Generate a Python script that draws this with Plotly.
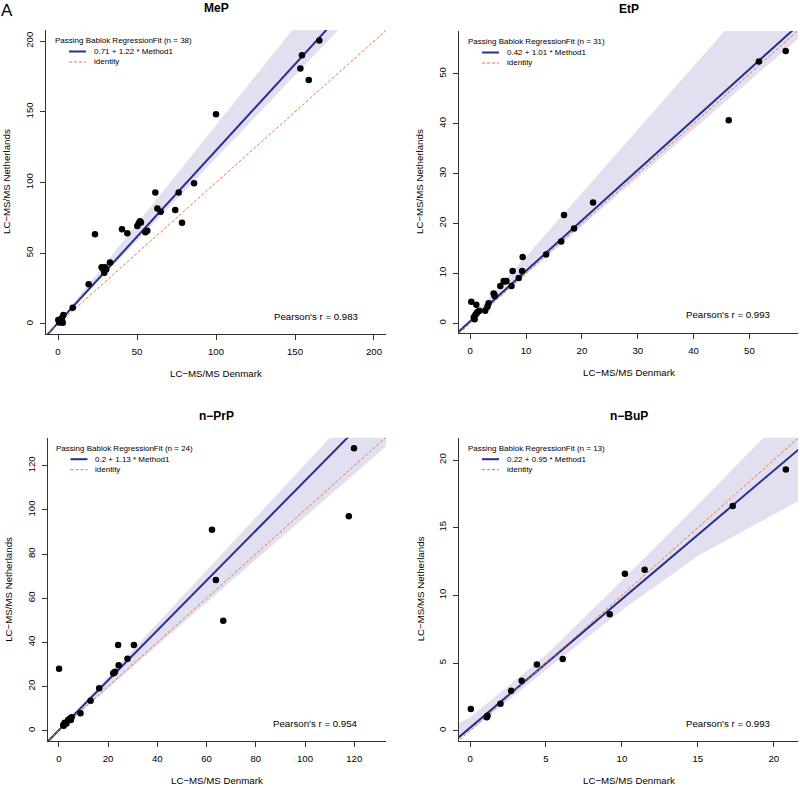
import plotly.graph_objects as go

W, H = 800, 788

# ---------------- data ----------------
titles = ["MeP", "EtP", "n\u2212PrP", "n\u2212BuP"]
n_obs = [38, 31, 24, 13]
intercepts = [0.71, 0.42, 0.2, 0.22]
slopes = [1.22, 1.01, 1.13, 0.95]
pearson = ["0.983", "0.993", "0.954", "0.993"]

mep_x = [165.4, 154.4, 153.4, 158.7, 100.0, 86.1, 61.6, 76.4, 62.9, 65.0,
         74.2, 78.5, 40.5, 43.9, 23.4, 50.2, 51.1, 51.9, 55.3, 56.5,
         32.9, 27.6, 28.7, 29.7, 29.3, 19.4, 9.3, 3.4, 2.3, 1.3,
         3.0, 0.2, 28.2, 30.5, 52.5, 1.8, 2.5, 0.8]
mep_y = [200.4, 190.0, 180.6, 172.6, 148.3, 99.5, 92.9, 92.9, 81.6, 79.4,
         80.6, 71.6, 67.0, 64.1, 63.4, 69.3, 71.2, 72.6, 64.9, 66.0,
         43.4, 40.1, 38.7, 40.1, 36.3, 28.1, 11.5, 6.4, 4.0, 1.6,
         0.9, 2.8, 39.5, 38.5, 71.8, 2.0, 3.2, 1.0]

etp_x = [56.5, 51.7, 46.3, 22.0, 16.8, 18.6, 16.3, 13.6, 9.4, 9.3,
         7.6, 8.7, 7.4, 6.0, 6.5, 5.4, 4.2, 4.4, 3.3, 3.1,
         2.7, 1.6, 1.2, 0.95, 1.1, 0.2, 0.65, 0.8, 6.2, 4.3, 1.4]
etp_y = [54.6, 52.5, 40.7, 24.2, 21.7, 19.0, 16.4, 13.8, 13.3, 10.5,
         10.5, 9.1, 7.5, 8.5, 8.5, 7.5, 6.0, 5.5, 4.0, 3.3,
         2.5, 2.5, 2.1, 1.7, 3.7, 4.3, 1.2, 0.8, 8.4, 5.8, 2.3]

prp_x = [119.9, 117.8, 62.2, 63.8, 66.8, 24.1, 30.5, 0.1, 24.3, 27.9,
         22.1, 22.8, 16.4, 12.9, 8.8, 4.9, 5.2, 3.8, 2.4, 1.8,
         3.1, 4.5, 2.0, 22.5]
prp_y = [127.9, 97.1, 91.0, 68.3, 49.8, 38.8, 38.8, 28.1, 29.7, 32.6,
         26.0, 26.7, 19.2, 13.6, 7.9, 4.8, 6.1, 4.8, 3.6, 2.6,
         3.3, 5.5, 2.2, 26.3]

bup_x = [20.8, 17.3, 11.5, 10.2, 9.2, 6.1, 4.4, 3.4, 2.7, 2.0, 1.15, 0.05, 1.1]
bup_y = [19.3, 16.6, 11.9, 11.6, 8.6, 5.3, 4.9, 3.7, 2.95, 2.0, 1.1, 1.6, 1.0]

# confidence band of the regression
mep_ci_x = [-8, 0, 210]
mep_ci_hi = [-9.5, 1.0, 294.0]
mep_ci_lo = [-10.5, 0.3, 246.0]

etp_ci_x = [-2.5, 0, 10, 60]
etp_ci_hi = [-1.9, 0.9, 13.4, 77.0]
etp_ci_lo = [-2.3, 0.1, 9.8, 58.3]

prp_ci_x = [-5, 0, 135]
prp_ci_hi = [-4.9, 0.6, 162.6]
prp_ci_lo = [-5.9, -0.2, 130.8]

bup_ci_x = [-0.75, 0, 5, 10, 15, 20, 22]
bup_ci_hi = [0.55, 1.0, 5.6, 11.1, 16.7, 22.4, 24.7]
bup_ci_lo = [-0.6, -0.05, 4.5, 8.9, 12.9, 16.0, 17.2]

x_ranges = [[-7.6, 207.6], [-2.0, 58.7], [-4.6, 132.9], [-0.73, 21.6]]
y_ranges = [[-7.1, 207.9], [-1.94, 58.6], [-4.66, 132.7], [-0.76, 21.65]]
tick_vals = [[0, 50, 100, 150, 200], [0, 10, 20, 30, 40, 50],
             [0, 20, 40, 60, 80, 100, 120], [0, 5, 10, 15, 20]]

xs = [mep_x, etp_x, prp_x, bup_x]
ys = [mep_y, etp_y, prp_y, bup_y]
cis = [(mep_ci_x, mep_ci_lo, mep_ci_hi), (etp_ci_x, etp_ci_lo, etp_ci_hi),
       (prp_ci_x, prp_ci_lo, prp_ci_hi), (bup_ci_x, bup_ci_lo, bup_ci_hi)]

# ---------------- layout geometry (pixels) ----------------
boxes = [(46, 386, 30, 334), (459, 798, 31, 333),
         (47.5, 386, 437.7, 741), (459, 798, 437.7, 741)]

FONT = "Liberation Sans, Arial, Helvetica, sans-serif"
LINE_COL = "#28308C"
ID_COL = "#E8763A"
BAND_COL = "rgba(226,223,241,1)"


def xp(px):
    return px / W


def yp(py):
    return 1 - py / H


fig = go.Figure()
layout = dict(width=W, height=H, margin=dict(l=0, r=0, t=0, b=0),
              plot_bgcolor="white", paper_bgcolor="white",
              showlegend=False, font=dict(family=FONT, color="black"))
annotations = []
shapes = []

for i in range(4):
    k = "" if i == 0 else str(i + 1)
    xa, ya = "x" + k, "y" + k
    x0, x1, y0, y1 = boxes[i]
    xr, yr = x_ranges[i], y_ranges[i]
    a, b = intercepts[i], slopes[i]
    cx, clo, chi = cis[i]

    fig.add_trace(go.Scatter(x=cx, y=clo, mode="lines", line=dict(width=0, color=BAND_COL),
                             xaxis=xa, yaxis=ya, hoverinfo="skip"))
    fig.add_trace(go.Scatter(x=cx, y=chi, mode="lines", line=dict(width=0, color=BAND_COL),
                             fill="tonexty", fillcolor=BAND_COL,
                             xaxis=xa, yaxis=ya, hoverinfo="skip"))
    lx = [xr[0] - 10, xr[1] + 10]
    fig.add_trace(go.Scatter(x=lx, y=[a + b * v for v in lx], mode="lines",
                             line=dict(color=LINE_COL, width=2), xaxis=xa, yaxis=ya))
    fig.add_trace(go.Scatter(x=lx, y=lx, mode="lines",
                             line=dict(color=ID_COL, width=1, dash="3px,2px"),
                             xaxis=xa, yaxis=ya))
    fig.add_trace(go.Scatter(x=xs[i], y=ys[i], mode="markers",
                             marker=dict(color="black", size=6.5, line=dict(width=0)),
                             xaxis=xa, yaxis=ya))

    axcommon = dict(showgrid=False, zeroline=False, showline=True, linecolor="#333333",
                    linewidth=1, ticks="outside", ticklen=5, tickwidth=1,
                    tickcolor="#333333", tickfont=dict(size=9.6, family=FONT, color="black"),
                    tickmode="array", tickvals=tick_vals[i], mirror=False)
    layout["xaxis" + k] = dict(axcommon, domain=[xp(x0), xp(x1)], range=xr,
                               anchor=ya, ticklabelstandoff=3)
    layout["yaxis" + k] = dict(axcommon, domain=[yp(y1), yp(y0)], range=yr,
                               anchor=xa, tickangle=-90, ticklabelstandoff=3)

    cxm = (x0 + x1) / 2
    cym = (y0 + y1) / 2
    # panel title
    annotations.append(dict(text="<b>%s</b>" % titles[i], x=xp(cxm), y=yp(y0 - 22),
                            xref="paper", yref="paper", showarrow=False,
                            font=dict(size=12, family=FONT), xanchor="center", yanchor="middle"))
    # axis titles
    annotations.append(dict(text="LC\u2212MS/MS Denmark", x=xp(cxm), y=yp(y1 + 39),
                            xref="paper", yref="paper", showarrow=False,
                            font=dict(size=9.7, family=FONT), xanchor="center", yanchor="middle"))
    annotations.append(dict(text="LC\u2212MS/MS Netherlands", x=xp(x0 - 39), y=yp(cym),
                            xref="paper", yref="paper", showarrow=False, textangle=-90,
                            font=dict(size=9.7, family=FONT), xanchor="center", yanchor="middle"))
    # pearson
    annotations.append(dict(text="Pearson's r = %s" % pearson[i], x=xp(x1 - 26), y=yp(y1 - 18),
                            xref="paper", yref="paper", showarrow=False,
                            font=dict(size=9.7, family=FONT), xanchor="right", yanchor="middle"))
    # legend
    annotations.append(dict(text="Passing Bablok RegressionFit (n = %d)" % n_obs[i],
                            x=xp(x0 + 6.5), y=yp(y0 + 10.5), xref="paper", yref="paper",
                            showarrow=False, font=dict(size=8, family=FONT),
                            xanchor="left", yanchor="middle"))
    annotations.append(dict(text="%s + %s * Method1" % (a, b),
                            x=xp(x0 + 45.5), y=yp(y0 + 21.5), xref="paper", yref="paper",
                            showarrow=False, font=dict(size=8, family=FONT),
                            xanchor="left", yanchor="middle"))
    annotations.append(dict(text="identity",
                            x=xp(x0 + 45.5), y=yp(y0 + 32), xref="paper", yref="paper",
                            showarrow=False, font=dict(size=8, family=FONT),
                            xanchor="left", yanchor="middle"))
    shapes.append(dict(type="line", xref="paper", yref="paper",
                       x0=xp(x0 + 23), x1=xp(x0 + 40), y0=yp(y0 + 21.5), y1=yp(y0 + 21.5),
                       line=dict(color=LINE_COL, width=2)))
    shapes.append(dict(type="line", xref="paper", yref="paper",
                       x0=xp(x0 + 23), x1=xp(x0 + 40), y0=yp(y0 + 32), y1=yp(y0 + 32),
                       line=dict(color=ID_COL, width=1, dash="3px,2px")))

annotations.append(dict(text="A", x=xp(0), y=yp(0), xref="paper", yref="paper",
                        showarrow=False, font=dict(size=17, family=FONT),
                        xanchor="left", yanchor="top", borderpad=0))

layout["annotations"] = annotations
layout["shapes"] = shapes
fig.update_layout(**layout)
fig.write_html("out.html", config={"displayModeBar": False},
               post_script="document.body.style.margin='0';document.body.style.padding='0';"
                           "document.body.style.overflow='hidden';")
